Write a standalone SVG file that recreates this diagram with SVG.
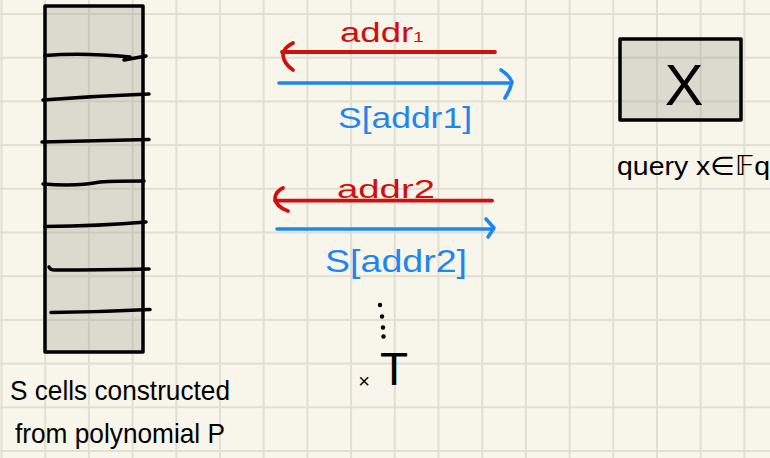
<svg xmlns="http://www.w3.org/2000/svg" width="770" height="458" viewBox="0 0 770 458">
<defs>
<pattern id="grid" patternUnits="userSpaceOnUse" x="-20.35" y="-7.85" width="43.7" height="43.7">
<path d="M21.85 0 V43.7 M0 21.85 H43.7" stroke="#e1dfd1" stroke-width="2" fill="none"/>
</pattern>
<style>
.ink{fill:none;stroke:#000;stroke-width:3.5;stroke-linecap:round;stroke-linejoin:round}
.red{fill:none;stroke:#d0100f;stroke-width:3.8;stroke-linecap:round;stroke-linejoin:round}
.blue{fill:none;stroke:#1f86ee;stroke-width:3.6;stroke-linecap:round;stroke-linejoin:round}
.box{fill:#9c9f96;fill-opacity:0.32;stroke:#000;stroke-width:3.5;stroke-linejoin:round}
.t{font-family:"Liberation Sans","DejaVu Sans",sans-serif}
.tk{fill:#000}
.tr{fill:#d0100f}
.tb{fill:#1f86ee}
</style>
</defs>
<rect width="770" height="458" fill="#f8f6ea"/>
<rect width="770" height="458" fill="url(#grid)"/>

<g id="cells">
<rect class="box" x="45" y="6" width="98" height="346"/>
<path class="ink" d="M45 55.5 C75 53 110 55 130 57 M124 60 L146 56"/>
<path class="ink" d="M43 100 Q95 96 149 94"/>
<path class="ink" d="M42 142 Q95 141 149 139.5"/>
<path class="ink" d="M43 184 C70 186 90 184 100 182 C115 181 130 181 144 181"/>
<path class="ink" d="M45 226.5 Q100 226 146 222"/>
<path class="ink" d="M49 267 Q50 270 55 270 Q100 270 149 269"/>
<path class="ink" d="M51 312.5 Q100 312 150 309.5"/>
<text class="t tk" x="10" y="400" font-size="28" textLength="220" lengthAdjust="spacingAndGlyphs">S cells constructed</text>
<text class="t tk" x="15" y="443" font-size="28" textLength="210" lengthAdjust="spacingAndGlyphs">from polynomial P</text>
</g>

<g id="query">
<rect class="box" x="620" y="39" width="121" height="81"/>
<text class="t tk" x="684" y="105" font-size="58" text-anchor="middle">X</text>
<text class="t tk" x="617" y="175" font-size="26" textLength="153" lengthAdjust="spacingAndGlyphs">query x∈𝔽q</text>
</g>

<g id="connectors">
<g id="req1">
<path class="red" d="M282 52 H495"/>
<path class="red" d="M293 43 Q283 48 283 55 Q284 64 293 70"/>
<text class="t tr" x="340" y="42" font-size="28" textLength="84" lengthAdjust="spacingAndGlyphs">addr<tspan font-size="15">1</tspan></text>
</g>
<g id="resp1">
<path class="blue" d="M279 83 H511"/>
<path class="blue" d="M501 70 Q510 76 512 82 Q510 90 505 98"/>
<text class="t tb" x="338" y="128" font-size="30" textLength="134" lengthAdjust="spacingAndGlyphs">S[addr1]</text>
</g>
<g id="req2">
<path class="red" d="M275 200.7 H492"/>
<path class="red" d="M283 188 Q276 191 275 198 Q276 207 288 211"/>
<text class="t tr" x="337" y="198" font-size="26" textLength="98" lengthAdjust="spacingAndGlyphs">addr2</text>
</g>
<g id="resp2">
<path class="blue" d="M277 229 H493"/>
<path class="blue" d="M486 219 L494 228 L488 237"/>
<text class="t tb" x="325" y="272" font-size="32" textLength="142" lengthAdjust="spacingAndGlyphs">S[addr2]</text>
</g>
</g>

<g id="repeat">
<circle cx="380" cy="305" r="2.2" fill="#000"/>
<circle cx="382" cy="316.5" r="2.2" fill="#000"/>
<circle cx="383" cy="327.5" r="2.2" fill="#000"/>
<circle cx="383.5" cy="336.5" r="2.2" fill="#000"/>
<text class="t tk" x="364" y="388" font-size="20" text-anchor="middle">×</text>
<text class="t tk" x="394" y="385" font-size="46" text-anchor="middle">T</text>
</g>
</svg>
